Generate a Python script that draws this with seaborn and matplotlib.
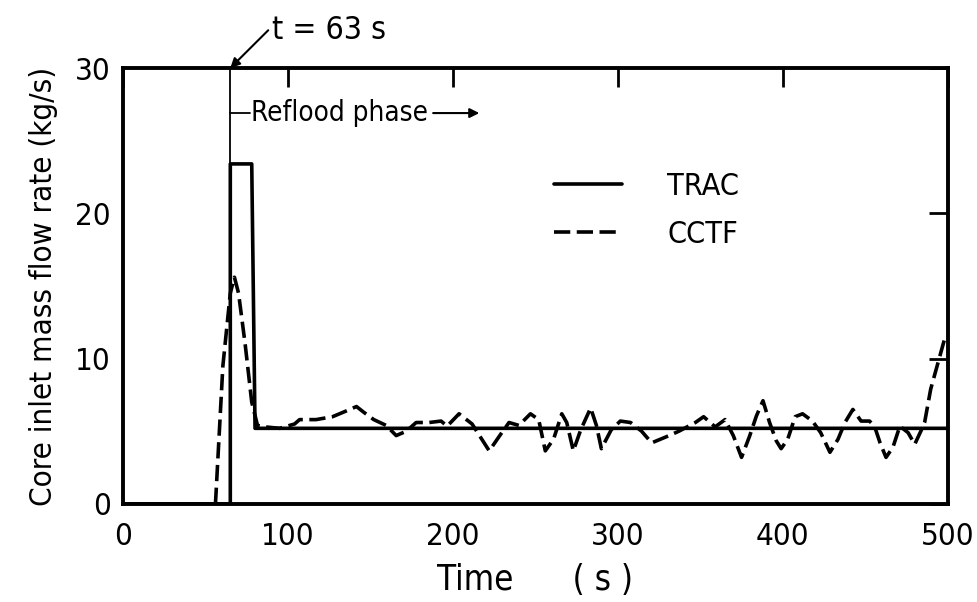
import matplotlib
matplotlib.use("Agg")
import matplotlib.pyplot as plt
import seaborn as sns
import pandas as pd

# ---- data ----
trac_t = [0, 65, 65, 78, 80, 500]
trac_w = [0, 0, 23.4, 23.4, 5.2, 5.2]

cctf_t = [56, 60.5, 65, 67.5, 70, 74, 78, 81.5, 86, 95, 104, 107, 117, 127, 135.4,
          141.5, 146, 152, 159.5, 165.6, 171.7, 177.7, 185.6, 192.8, 196.5,
          203.7, 211.6, 222, 229, 234, 240, 247, 252, 256, 261, 266, 269, 273,
          277.5, 283.5, 287, 290, 296, 301.5, 307.7, 314.4, 320.5, 329, 337,
          347, 352, 359, 365, 370, 375, 380, 384, 388, 392, 396, 399, 403,
          407.5, 412, 418, 423, 428.6, 433.5, 437.7, 442.5, 447.5, 452.6,
          455.6, 459, 462.6, 466.8, 471, 476, 480, 483.7, 486, 489.7, 498, 500]
cctf_w = [0, 9.5, 14.5, 15.6, 14.5, 11, 7, 5.4, 5.3, 5.2, 5.5, 5.8, 5.8, 6.0, 6.4,
          6.7, 6.3, 5.8, 5.4, 4.7, 5.0, 5.6, 5.6, 5.7, 5.35,
          6.2, 5.5, 3.65, 4.8, 5.6, 5.4, 6.2, 5.8, 3.65, 4.45, 6.2, 5.6, 3.65,
          5.1, 6.6, 5.4, 3.8, 5.1, 5.7, 5.6, 5.0, 4.2, 4.6, 5.0,
          5.6, 6.0, 5.3, 5.8, 4.7, 3.2, 4.7, 6.05, 7.1, 5.6, 4.35, 3.8, 4.45,
          6.0, 6.2, 5.7, 4.9, 3.55, 4.45, 5.6, 6.5, 5.7, 5.7,
          5.35, 4.2, 3.2, 3.9, 5.35, 4.9, 4.1, 5.0, 5.6, 7.9, 11.3, 11.6]

x_ticks = [0, 100, 200, 300, 400, 500]
y_ticks = [0, 10, 20, 30]
t_reflood = 65

sns.set_theme(style="white")
plt.rcParams["font.family"] = ["DejaVu Sans"]
plt.rcParams["font.stretch"] = "condensed"
plt.rcParams["text.color"] = "black"
plt.rcParams["axes.labelcolor"] = "black"

fig = plt.figure(figsize=(9.77, 6.02), dpi=100)
ax = fig.add_axes([0.126, 0.163, 0.970 - 0.126, 0.887 - 0.163])

df_trac = pd.DataFrame({"t": trac_t, "w": trac_w})
df_cctf = pd.DataFrame({"t": cctf_t, "w": cctf_w})

sns.lineplot(data=df_trac, x="t", y="w", ax=ax, color="black", lw=2.6,
             estimator=None, sort=False, label="TRAC")
sns.lineplot(data=df_cctf, x="t", y="w", ax=ax, color="black", lw=2.6,
             estimator=None, sort=False, label="CCTF")
ax.lines[1].set_dashes((4.5, 1.8))
ax.lines[1].set_dash_joinstyle("round")

ax.set_xlim(0, 500)
ax.set_ylim(0, 30)
ax.set_xticks(x_ticks)
ax.set_yticks(y_ticks)
ax.set_xticklabels([str(v) for v in x_ticks])
ax.set_yticklabels([str(v) for v in y_ticks])
ax.tick_params(direction="in", length=14, width=2, top=True, right=True,
               labelsize=22.5, colors="black")
ax.tick_params(axis="x", pad=13)
ax.tick_params(axis="y", pad=9)
for s in ax.spines.values():
    s.set_linewidth(2.8)
    s.set_color("black")

ax.set_xlabel("Time      ( s )", fontsize=25, labelpad=9)
ax.set_ylabel("Core inlet mass flow rate (kg/s)", fontsize=22.5, labelpad=12)

# annotation line at start of reflood
ax.axvline(t_reflood, ymin=23.4 / 30, ymax=1, color="black", lw=1.3)
ax.annotate("", xy=(t_reflood, 30), xytext=(t_reflood + 23, 32.6),
            xycoords="data", annotation_clip=False,
            arrowprops=dict(arrowstyle="-|>", color="black", lw=1.5,
                            mutation_scale=14, shrinkA=0, shrinkB=0))
ax.text(t_reflood + 25, 32.6, "t = 63 s", fontsize=23, ha="left", va="center",
        clip_on=False)
ax.plot([t_reflood, t_reflood + 12], [26.9, 26.9], color="black", lw=1.3)
ax.text(t_reflood + 12.5, 26.9, "Reflood phase", fontsize=20, ha="left",
        va="center")
ax.annotate("", xy=(216, 26.9), xytext=(188, 26.9),
            arrowprops=dict(arrowstyle="-|>", color="black", lw=1.5,
                            mutation_scale=14, shrinkA=0, shrinkB=0))

leg = ax.legend(loc="center left", bbox_to_anchor=(0.523, 0.673), frameon=False,
                fontsize=22, handlelength=2.2, handletextpad=1.5,
                labelspacing=0.62, borderaxespad=0, borderpad=0)
for h in leg.get_lines():
    h.set_linewidth(2.6)
leg.get_lines()[1].set_dashes((4.5, 1.8))

fig.savefig("out.png", dpi=100, facecolor="white")
